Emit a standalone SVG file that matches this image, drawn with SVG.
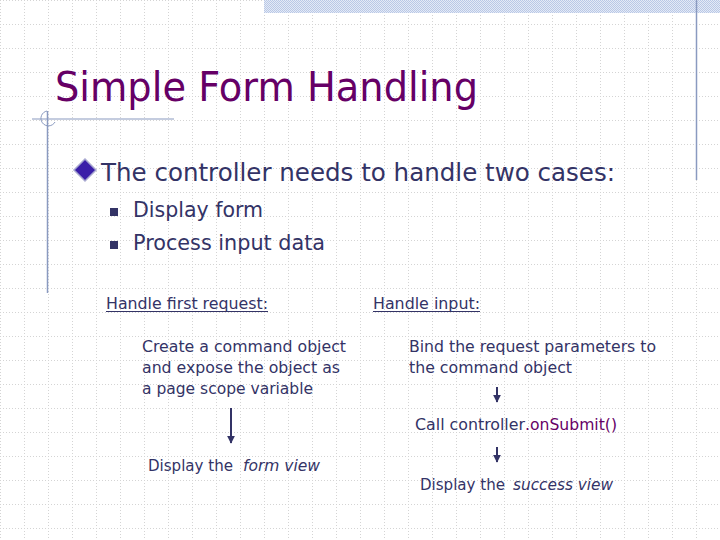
<svg xmlns="http://www.w3.org/2000/svg" width="720" height="540" viewBox="0 0 720 540">
<defs>
<pattern id="grid" x="0" y="0" width="24" height="24" patternUnits="userSpaceOnUse">
<line x1="0.5" y1="0" x2="0.5" y2="24" stroke="#d4d4d4" stroke-width="1" stroke-dasharray="1,2"/>
<line x1="0" y1="0.5" x2="24" y2="0.5" stroke="#d4d4d4" stroke-width="1" stroke-dasharray="1,2"/>
</pattern>
<pattern id="check" x="0" y="0" width="2" height="2" patternUnits="userSpaceOnUse">
<rect width="2" height="2" fill="#e4eaf6"/>
<rect width="1" height="1" fill="#b9c8e6"/>
<rect x="1" y="1" width="1" height="1" fill="#b9c8e6"/>
</pattern>
<marker id="ah" viewBox="0 0 10 10" refX="9" refY="5" markerWidth="4" markerHeight="4" orient="auto" markerUnits="strokeWidth">
<path d="M0,0 L10,5 L0,10 Z" fill="#333366"/>
</marker>
</defs>
<style>
.t{font-family:"DejaVu Sans","Verdana",sans-serif;fill:#333366}
.ttl{font-family:"DejaVu Sans","Verdana",sans-serif;fill:#660066;font-size:41px}
.b1{font-size:25px}
.b2{font-size:21px}
.s{font-size:16px}
.it{font-style:italic}
.pu{fill:#660066}
.deco{stroke:#8a9ac0;fill:none}
.conn{stroke:#333366;stroke-width:2;fill:none}
</style>
<rect width="720" height="540" fill="#ffffff"/>
<rect width="720" height="540" fill="url(#grid)"/>
<g id="decoration">
<rect x="264" y="0" width="456" height="13" fill="url(#check)"/>
<line class="deco" x1="696.5" y1="0" x2="696.5" y2="180" stroke-width="1.5"/>
<line class="deco" x1="32" y1="119" x2="174" y2="119" stroke-width="1.2"/>
<line class="deco" x1="47.5" y1="111" x2="47.5" y2="293" stroke-width="1.5"/>
<path class="deco" d="M47,111 A7.5,7.5 0 1 0 55,122" stroke-width="1"/>
</g>
<g id="title">
<text class="ttl" x="55" y="101" textLength="423" lengthAdjust="spacingAndGlyphs">Simple Form Handling</text>
</g>
<g id="bullets">
<path d="M85,159 L96,170 L85,181 L74,170 Z" fill="#3a1ea8" stroke="#a8a8d0" stroke-width="1.5"/>
<text class="t b1" x="101" y="181" textLength="514" lengthAdjust="spacingAndGlyphs">The controller needs to handle two cases:</text>
<rect x="110" y="208" width="8" height="8" fill="#333366"/>
<text class="t b2" x="133" y="217" textLength="130" lengthAdjust="spacingAndGlyphs">Display form</text>
<rect x="110" y="241" width="8" height="8" fill="#333366"/>
<text class="t b2" x="133" y="250" textLength="192" lengthAdjust="spacingAndGlyphs">Process input data</text>
</g>
<g id="heading-first">
<text class="t s" x="106" y="309" textLength="162" lengthAdjust="spacingAndGlyphs">Handle first request:</text>
<line x1="106" y1="311.5" x2="268" y2="311.5" stroke="#333366" stroke-width="1"/>
</g>
<g id="heading-input">
<text class="t s" x="373" y="309" textLength="107" lengthAdjust="spacingAndGlyphs">Handle input:</text>
<line x1="373" y1="311.5" x2="480" y2="311.5" stroke="#333366" stroke-width="1"/>
</g>
<g id="node-create">
<text class="t s" x="142" y="352" textLength="204" lengthAdjust="spacingAndGlyphs">Create a command object</text>
<text class="t s" x="142" y="373" textLength="198" lengthAdjust="spacingAndGlyphs">and expose the object as</text>
<text class="t s" x="142" y="394" textLength="171" lengthAdjust="spacingAndGlyphs">a page scope variable</text>
</g>
<g id="node-form-view">
<text class="t s" x="148" y="471" textLength="85" lengthAdjust="spacingAndGlyphs">Display the</text>
<text class="t s it" x="243" y="471" textLength="77" lengthAdjust="spacingAndGlyphs">form view</text>
</g>
<g id="node-bind">
<text class="t s" x="409" y="352" textLength="247" lengthAdjust="spacingAndGlyphs">Bind the request parameters to</text>
<text class="t s" x="409" y="373" textLength="163" lengthAdjust="spacingAndGlyphs">the command object</text>
</g>
<g id="node-submit">
<text class="t s" x="415" y="430" textLength="110" lengthAdjust="spacingAndGlyphs">Call controller</text>
<text class="t s pu" x="525" y="430" textLength="92" lengthAdjust="spacingAndGlyphs">.onSubmit()</text>
</g>
<g id="node-success">
<text class="t s" x="420" y="490" textLength="85" lengthAdjust="spacingAndGlyphs">Display the</text>
<text class="t s it" x="513" y="490" textLength="100" lengthAdjust="spacingAndGlyphs">success view</text>
</g>
<g id="connectors">
<line class="conn" x1="231" y1="408" x2="231" y2="443" marker-end="url(#ah)"/>
<line class="conn" x1="497" y1="387" x2="497" y2="402" marker-end="url(#ah)"/>
<line class="conn" x1="497" y1="447" x2="497" y2="462" marker-end="url(#ah)"/>
</g>
</svg>
